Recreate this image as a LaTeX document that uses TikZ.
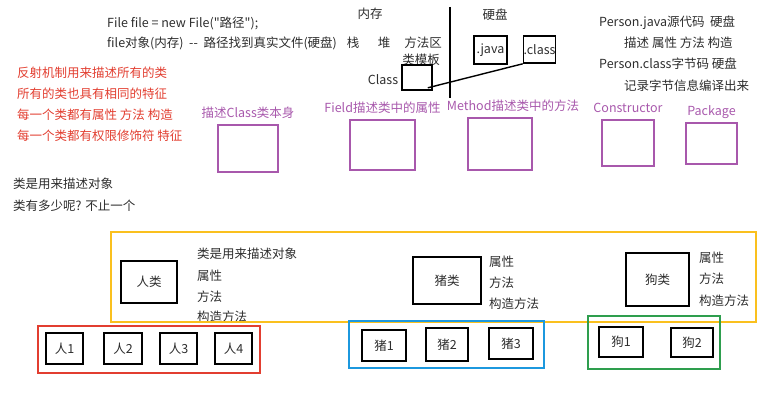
\documentclass[tikz,border=0pt]{standalone}
\usepackage{fontspec}
\setmainfont{Noto Sans CJK SC}[Ligatures=TeXOff]
\usetikzlibrary{positioning}
\definecolor{ink}{RGB}{45,45,45}
\definecolor{plum}{RGB}{168,88,172}
\definecolor{redpen}{RGB}{226,62,48}
\definecolor{yellowpen}{RGB}{250,192,30}
\definecolor{bluepen}{RGB}{28,152,222}
\definecolor{greenpen}{RGB}{46,158,78}

\begin{document}
\begin{tikzpicture}[x=1pt, y=-1pt, font=\fontsize{12.5}{15}\selectfont,
    txt/.style={anchor=west, inner sep=0pt, text=ink},
    word/.style={inner sep=0pt, text=ink},
    obj/.style={draw=black, line width=1.6pt, inner sep=0pt, text=ink},
    part/.style={draw=plum, line width=1.6pt, inner sep=0pt},
    partlbl/.style={text=plum, inner sep=0pt, text height=9pt, text depth=3pt}]

  \useasboundingbox (0,0) rectangle (758,411);

  % File example
  \node[txt] (file1) at (107,23) {File file = new File("路径");};
  \node[txt] (file2) at (107,43) {file对象(内存)\ \ --\ \ 路径找到真实文件(硬盘)};

  % Memory | disk
  \node[word] (mem) at (370,14) {内存};
  \node[word] (stack) at (353,43) {栈};
  \node[word] (heap) at (384,43) {堆};
  \node[word] (area) at (423,43) {方法区};
  \node[word] (tmpl) at (421,60) {类模板};
  \node[word] (clslbl) at (383,80) {Class};
  \node[obj, minimum width=30pt, minimum height=25pt] (clsbox) at (417,77.5) {};
  \coordinate (sepTop) at (450,7);
  \coordinate (sepBot) at (450,98);
  \draw[line width=1.6pt] (sepTop) -- (sepBot);
  \node[word] (disk) at (495,15) {硬盘};
  \node[obj, minimum width=33pt, minimum height=28pt] (javafile) at (490.5,50) {.java};
  \node[obj, minimum width=31pt, minimum height=27pt] (classfile) at (539.5,49.5) {.class};
  \draw[line width=1.4pt] ([shift={(-5,-3)}]clsbox.south east) -- (classfile.south west);

  % Source and byte code
  \node[txt] (src1) at (599,23) {Person.java源代码\ \ 硬盘};
  \node[txt] (src2) at (624,43) {描述 属性 方法 构造};
  \node[txt] (src3) at (599,64) {Person.class字节码 硬盘};
  \node[txt] (src4) at (624,86) {记录字节信息编译出来};

  % Reflection notes
  \node[txt, text=redpen] (note1) at (17,73) {反射机制用来描述所有的类};
  \node[txt, text=redpen] (note2) at (17,94) {所有的类也具有相同的特征};
  \node[txt, text=redpen] (note3) at (17,115) {每一个类都有属性 方法 构造};
  \node[txt, text=redpen] (note4) at (17,136) {每一个类都有权限修饰符 特征};

  % Reflection parts
  \node[part, minimum width=60pt, minimum height=47pt] (pClass) at (248,148.5) {};
  \node[part, minimum width=65pt, minimum height=50pt] (pField) at (382.5,145) {};
  \node[part, minimum width=64pt, minimum height=52pt] (pMethod) at (500,144) {};
  \node[part, minimum width=52pt, minimum height=46pt] (pCons) at (628,143) {};
  \node[part, minimum width=51pt, minimum height=41pt] (pPack) at (711.5,143.5) {};
  \node[partlbl, above=3pt of pClass] (lClass) {描述Class类本身};
  \node[partlbl, above=3pt of pField] (lField) {Field描述类中的属性};
  \node[partlbl, above=3pt of pMethod, xshift=13pt] (lMethod) {Method描述类中的方法};
  \node[partlbl, above=3pt of pCons] (lCons) {Constructor};
  \node[partlbl, above=3pt of pPack] (lPack) {Package};

  % Classes
  \node[txt] (cls1) at (13,184) {类是用来描述对象};
  \node[txt] (cls2) at (13,206) {类有多少呢? 不止一个};

  \draw[yellowpen, line width=1.5pt] (111,232) rectangle (756,322);

  \node[obj, minimum width=56pt, minimum height=42pt] (person) at (149,282) {人类};
  \node[txt] (pa) at (197,254) {类是用来描述对象};
  \node[txt] (pb) at (197,276) {属性};
  \node[txt] (pc) at (197,297) {方法};
  \begin{scope}
    \clip (111,232) rectangle (756,321);
    \node[txt] (pd) at (197,317) {构造方法};
  \end{scope}

  \node[obj, minimum width=68pt, minimum height=47pt] (pig) at (447,280.5) {猪类};
  \node[txt] (ga) at (489,262) {属性};
  \node[txt] (gb) at (489,283) {方法};
  \node[txt] (gc) at (489,304) {构造方法};

  \node[obj, minimum width=63pt, minimum height=53pt] (dog) at (657.5,279.5) {狗类};
  \node[txt] (da) at (699,258) {属性};
  \node[txt] (db) at (699,279) {方法};
  \node[txt] (dc) at (699,301) {构造方法};

  % Objects
  \draw[redpen, line width=1.5pt] (38,326) rectangle (260,373);
  \node[obj, minimum width=37pt, minimum height=31pt] (p1) at (64.5,348.5) {人1};
  \node[obj, minimum width=38pt, minimum height=31pt] (p2) at (123,348.5) {人2};
  \node[obj, minimum width=37pt, minimum height=31pt] (p3) at (178.5,348.5) {人3};
  \node[obj, minimum width=37pt, minimum height=31pt] (p4) at (233.5,348.5) {人4};

  \draw[bluepen, line width=1.5pt] (349,321) rectangle (544,368);
  \node[obj, minimum width=44pt, minimum height=31pt] (g1) at (384,345.5) {猪1};
  \node[obj, minimum width=42pt, minimum height=33pt] (g2) at (447,344.5) {猪2};
  \node[obj, minimum width=44pt, minimum height=31pt] (g3) at (511,343.5) {猪3};

  \draw[greenpen, line width=1.5pt] (588,316) rectangle (720,369);
  \node[obj, minimum width=44pt, minimum height=30pt] (d1) at (621,342) {狗1};
  \node[obj, minimum width=42pt, minimum height=29pt] (d2) at (692,342.5) {狗2};
\end{tikzpicture}
\end{document}
